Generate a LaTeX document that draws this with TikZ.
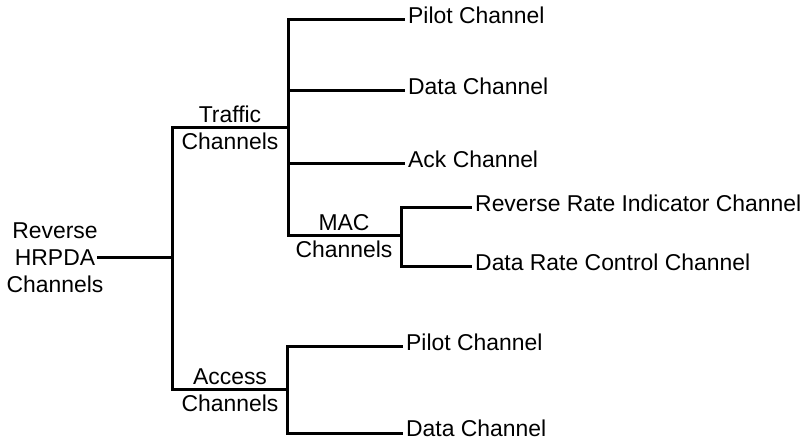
\documentclass[tikz,border=0pt]{standalone}
\usepackage{fontspec}
\setmainfont{Liberation Sans}
\begin{document}
\begin{tikzpicture}[x=1bp,y=-1bp,
  every node/.style={font=\fontsize{23}{27}\selectfont},
  conn/.style={line width=3bp, line join=miter},
  leaf/.style={anchor=west, inner xsep=3bp, inner ysep=0pt, text height=0.72em, text depth=0pt},
  grp/.style={align=center, inner sep=0pt},
]
\useasboundingbox (0,0) rectangle (809,443);
% text nodes
\node[grp] (root) at (55,258) {Reverse\\HRPDA\\Channels};
\node[grp] (trafficlbl) at (230,128) {Traffic\\Channels};
\node[grp] (maclbl) at (344,236) {MAC\\Channels};
\node[grp] (accesslbl) at (230,390) {Access\\Channels};
\node[leaf] (tpilot) at (405,20) {Pilot Channel};
\node[leaf] (tdata) at (405,91) {Data Channel};
\node[leaf] (tack) at (405,164) {Ack Channel};
\node[leaf] (rri) at (472,208) {Reverse Rate Indicator Channel};
\node[leaf] (drc) at (472,267) {Data Rate Control Channel};
\node[leaf] (apilot) at (403,347) {Pilot Channel};
\node[leaf] (adata) at (403,433) {Data Channel};
% junctions
\coordinate (rootend) at (97,258);
\coordinate (r) at (172,258);
\coordinate (tr) at (288,128);
\coordinate (mac) at (401,236);
\coordinate (ac) at (287,389);
% connectors
\draw[conn] (rootend) -- (r);
\draw[conn] (r) |- (tr);
\draw[conn] (r) |- (ac);
\draw[conn] (tr) |- (tpilot.west);
\draw[conn] (tr) |- (tdata.west);
\draw[conn] (tr) |- (tack.west);
\draw[conn] (tr) |- (mac);
\draw[conn] (mac) |- (rri.west);
\draw[conn] (mac) |- (drc.west);
\draw[conn] (ac) |- (apilot.west);
\draw[conn] (ac) |- (adata.west);
\end{tikzpicture}
\end{document}
